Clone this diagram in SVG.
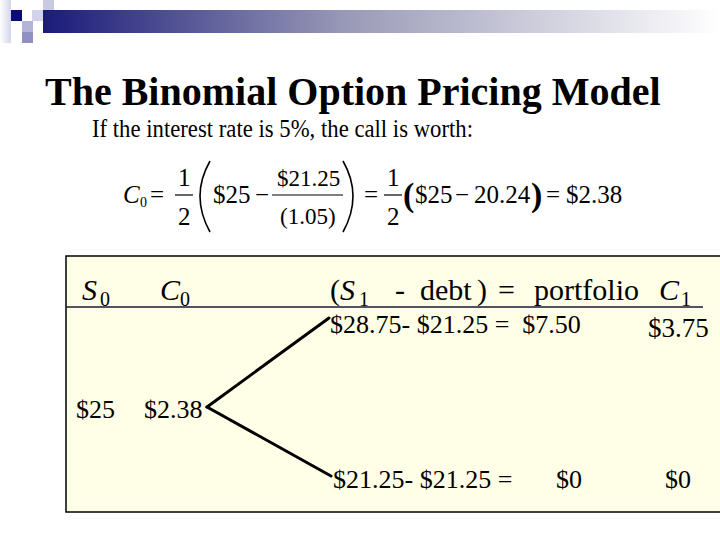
<svg xmlns="http://www.w3.org/2000/svg" width="720" height="540" viewBox="0 0 720 540">
<defs>
<linearGradient id="bar" x1="0" y1="0" x2="1" y2="0">
<stop offset="0" stop-color="#1a1a7a"/>
<stop offset="0.45" stop-color="#9a9ab8"/>
<stop offset="1" stop-color="#ffffff"/>
</linearGradient>
<linearGradient id="lstrip" x1="0" y1="0" x2="1" y2="0">
<stop offset="0" stop-color="#ffffff"/>
<stop offset="1" stop-color="#d4d4ea"/>
</linearGradient>
<style>
text{font-family:"Liberation Serif","Times New Roman",serif;fill:#000}
.it{font-style:italic}
.conn{stroke:#000;stroke-width:3;fill:none;stroke-linecap:round}
.eq{font-size:25px}
.fr{font-size:23px}
.bar{stroke:#000;stroke-width:1.2}
.br{stroke:#000;stroke-width:1.6;fill:none}
.hd{font-size:30px}
.sub{font-size:20px}
.cell{font-size:26px}
</style>
</defs>
<rect width="720" height="540" fill="#fff"/>
<g id="decor">
<rect x="43" y="10" width="677" height="23" fill="url(#bar)"/>
<rect x="0" y="0" width="11" height="43" fill="url(#lstrip)"/>
<rect x="43" y="0" width="11" height="10" fill="#c9c9e2"/>
<rect x="32" y="10" width="11" height="11" fill="#d2d2ea"/>
<rect x="11" y="10" width="11" height="11" fill="#0c0c78"/>
<rect x="22" y="21" width="11" height="11" fill="#b4b4da"/>
<rect x="22" y="32" width="11" height="11" fill="#9090c2"/>
</g>
<g id="title">
<text x="45" y="105" font-size="40" font-weight="bold">The Binomial Option Pricing Model</text>
<text x="92" y="137" font-size="25" textLength="381" lengthAdjust="spacingAndGlyphs">If the interest rate is 5%, the call is worth:</text>
</g>
<g id="equation">
<text x="123" y="203" class="it eq">C</text>
<text x="140" y="207" font-size="14">0</text>
<text x="150" y="203" class="eq">=</text>
<text x="178" y="186" class="eq">1</text>
<line class="bar" x1="175" y1="195" x2="193" y2="195"/>
<text x="178" y="225" class="eq">2</text>
<path class="br" d="M210,161 Q190,196 210,232"/>
<text x="213" y="203" class="eq">$25</text>
<text x="255" y="203" class="eq">−</text>
<text x="277" y="186" class="fr">$21.25</text>
<line class="bar" x1="272" y1="195" x2="343" y2="195"/>
<text x="280" y="224" class="fr">(1.05)</text>
<path class="br" d="M343,161 Q363,196 343,232"/>
<text x="364" y="203" class="eq">=</text>
<text x="387" y="186" class="eq">1</text>
<line class="bar" x1="384" y1="195" x2="402" y2="195"/>
<text x="387" y="225" class="eq">2</text>
<text x="403" y="206" font-size="34" font-weight="bold">(</text>
<text x="415" y="203" class="eq">$25</text>
<text x="455" y="203" class="eq">−</text>
<text x="474" y="203" class="eq">20.24</text>
<text x="531" y="206" font-size="34" font-weight="bold">)</text>
<text x="546" y="203" class="eq">=</text>
<text x="566" y="203" class="eq">$2.38</text>
</g>
<g id="table">
<rect x="66" y="256" width="670" height="256" fill="#fffee6" stroke="#000" stroke-width="1.5"/>
<line x1="66" y1="307" x2="703" y2="307" stroke="#1a1a3a" stroke-width="1.5"/>
</g>
<g id="header">
<text x="82" y="300" class="hd it">S</text>
<text x="100" y="306" class="sub">0</text>
<text x="160" y="300" class="hd it">C</text>
<text x="180" y="306" class="sub">0</text>
<text x="330" y="300" class="hd">(</text>
<text x="340" y="300" class="hd it">S</text>
<text x="359" y="306" class="sub">1</text>
<text x="395" y="300" class="hd">-</text>
<text x="420" y="300" class="hd">debt</text>
<text x="477" y="300" class="hd">)</text>
<text x="498" y="300" class="hd">=</text>
<text x="534" y="300" class="hd">portfolio</text>
<text x="659" y="300" class="hd it">C</text>
<text x="681" y="306" class="sub">1</text>
</g>
<g id="node-up">
<text x="330" y="333" class="cell" xml:space="preserve">$28.75- $21.25 =  $7.50</text>
<text x="648" y="337" font-size="27">$3.75</text>
</g>
<g id="node-root">
<text x="76" y="418" class="cell">$25</text>
<text x="144" y="418" class="cell">$2.38</text>
</g>
<g id="node-down">
<text x="333" y="488" class="cell">$21.25- $21.25 =</text>
<text x="556" y="488" class="cell">$0</text>
<text x="665" y="488" class="cell">$0</text>
</g>
<g id="connectors">
<line class="conn" x1="207" y1="407" x2="329" y2="318"/>
<line class="conn" x1="207" y1="407" x2="331" y2="476"/>
</g>
</svg>
